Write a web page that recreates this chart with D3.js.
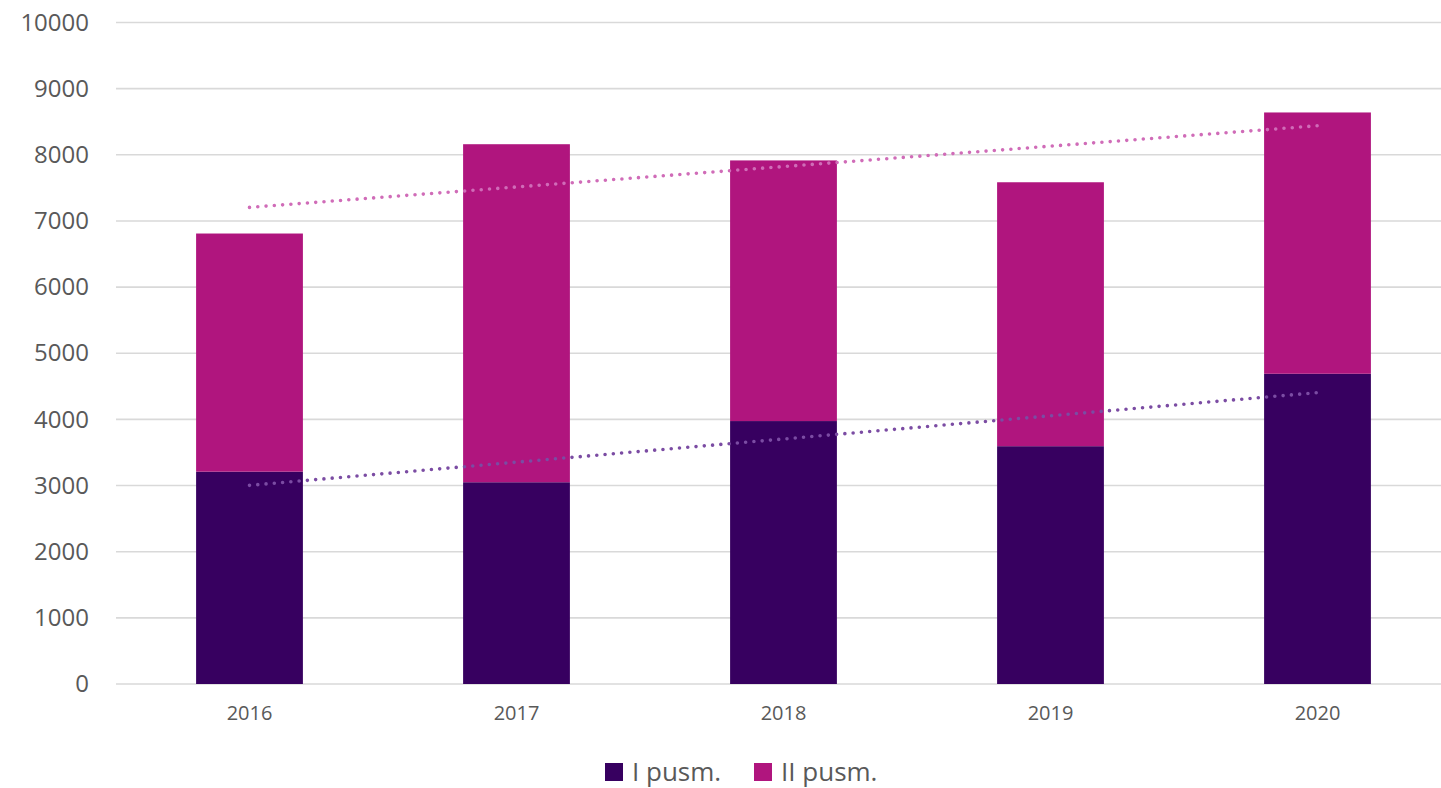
<!DOCTYPE html>
<html>
<head>
<meta charset="utf-8">
<script src="https://cdn.jsdelivr.net/npm/d3@7"></script>
<style>
  html, body { margin: 0; padding: 0; background: #ffffff; }
  svg { display: block; font-family: "Open Sans", "Liberation Sans", sans-serif; }
</style>
</head>
<body>
<svg id="chart"></svg>
<script>
const width = 1441, height = 788;

// data
const years = ["2016", "2017", "2018", "2019", "2020"];
const firstHalf = [3210, 3050, 3975, 3595, 4690];   // I pusm.
const secondHalf = [3600, 5110, 3940, 3990, 3950];  // II pusm.
const yTicks = [0, 1000, 2000, 3000, 4000, 5000, 6000, 7000, 8000, 9000, 10000];
const seriesNames = ["I pusm.", "II pusm."];

const colors = ["#370060", "#b0157e"];
const trendColors = ["#7b4ca3", "#d06cb8"];

const svg = d3.select("#chart")
    .attr("width", width)
    .attr("height", height);

const x = d3.scaleBand()
    .domain(years)
    .range([116, 1451])
    .paddingInner(0.6)
    .paddingOuter(0.3);

const y = d3.scaleLinear()
    .domain([0, 10000])
    .range([684, 22.5]);

// gridlines
svg.append("g")
    .selectAll("line")
    .data(yTicks)
    .join("line")
    .attr("x1", 116)
    .attr("x2", 1451)
    .attr("y1", d => y(d))
    .attr("y2", d => y(d))
    .attr("stroke", "#d9d9d9")
    .attr("stroke-width", 1.6);

// y axis labels
const yAxis = svg.append("g")
    .attr("transform", "translate(89,0)")
    .call(d3.axisLeft(y).tickValues(yTicks).tickSize(0).tickPadding(0).tickFormat(d3.format("d")));
yAxis.select(".domain").remove();
yAxis.selectAll("text")
    .attr("fill", "#595959")
    .attr("font-size", 24)
    .attr("font-family", "'Open Sans', sans-serif");

// stack the two halves
const rows = years.map((yr, i) => ({ year: yr, a: firstHalf[i], b: secondHalf[i] }));
const stacked = d3.stack().keys(["a", "b"])(rows);

svg.append("g")
    .selectAll("g")
    .data(stacked)
    .join("g")
    .attr("fill", (d, i) => colors[i])
    .selectAll("rect")
    .data(d => d)
    .join("rect")
    .attr("x", d => x(d.data.year))
    .attr("width", x.bandwidth())
    .attr("y", d => y(d[1]))
    .attr("height", d => y(d[0]) - y(d[1]));

// x axis labels
const xAxis = svg.append("g")
    .attr("transform", "translate(0,684)")
    .call(d3.axisBottom(x).tickSize(0).tickPadding(22));
xAxis.select(".domain").remove();
xAxis.selectAll("text")
    .attr("fill", "#595959")
    .attr("font-size", 20)
    .attr("font-family", "'Open Sans', sans-serif");

// linear trendlines (least squares), one for I pusm., one for the stacked total
function linreg(vals) {
    const xs = d3.range(1, vals.length + 1);
    const mx = d3.mean(xs), my = d3.mean(vals);
    const slope = d3.sum(xs, (xi, i) => (xi - mx) * (vals[i] - my)) / d3.sum(xs, xi => (xi - mx) * (xi - mx));
    const icpt = my - slope * mx;
    return xs.map(xi => icpt + slope * xi);
}
const totals = years.map((yr, i) => firstHalf[i] + secondHalf[i]);
const trends = [linreg(firstHalf), linreg(totals)];

const line = d3.line()
    .x((d, i) => x(years[i]) + x.bandwidth() / 2)
    .y(d => y(d));

svg.append("g")
    .selectAll("path")
    .data(trends)
    .join("path")
    .attr("d", line)
    .attr("fill", "none")
    .attr("stroke", (d, i) => trendColors[i])
    .attr("stroke-width", 3.6)
    .attr("stroke-linecap", "round")
    .attr("stroke-dasharray", "0 8.3");

// legend
const legend = svg.append("g");
const legendX = [605, 754];
seriesNames.forEach((name, i) => {
    legend.append("rect")
        .attr("x", legendX[i])
        .attr("y", 763)
        .attr("width", 18)
        .attr("height", 18)
        .attr("fill", colors[i]);
    legend.append("text")
        .attr("x", legendX[i] + 27)
        .attr("y", 781)
        .attr("fill", "#595959")
        .attr("font-size", 26)
        .text(name);
});
</script>
</body>
</html>
